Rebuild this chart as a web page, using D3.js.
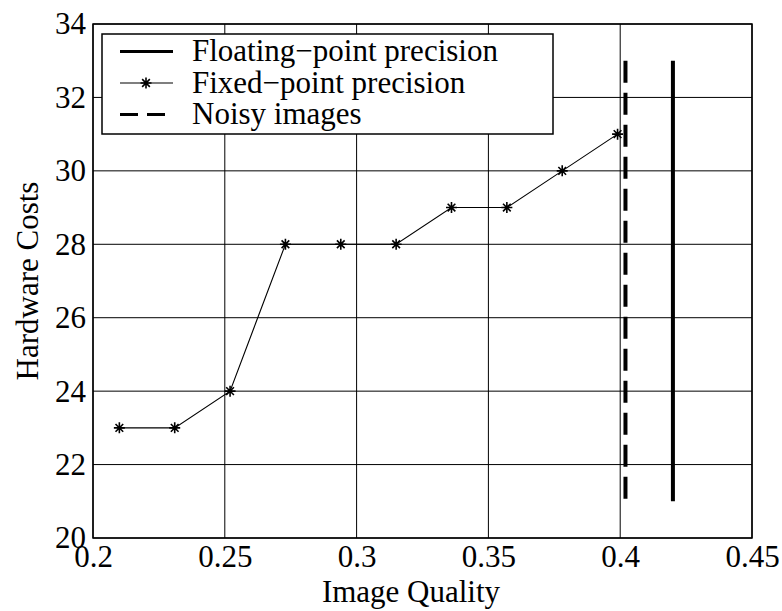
<!DOCTYPE html>
<html>
<head>
<meta charset="utf-8">
<script src="https://cdn.jsdelivr.net/npm/d3@7"></script>
<style>
  body { margin: 0; background: #fff; }
  svg { display: block; font-family: "Liberation Serif", "Times New Roman", serif; }
</style>
</head>
<body>
<svg id="chart" width="782" height="611"></svg>
<script>
// fixed-point series
const quality = [0.21, 0.231, 0.252, 0.273, 0.294, 0.315, 0.336, 0.357, 0.378, 0.399];
const costs = [23, 23, 24, 28, 28, 28, 29, 29, 30, 31];

// vertical reference lines: [x, yFrom, yTo]
const floatingLine = [0.42, 21, 33];
const noisyLine = [0.402, 21, 33];

const xTicks = [0.2, 0.25, 0.3, 0.35, 0.4, 0.45];
const yTicks = [20, 22, 24, 26, 28, 30, 32, 34];
const legendLabels = ['Floating\u2212point precision', 'Fixed\u2212point precision', 'Noisy images'];

const margin = { top: 24, right: 30, bottom: 73, left: 93 };
const width = 782 - margin.left - margin.right;
const height = 611 - margin.top - margin.bottom;
const fontSize = 31;

const svg = d3.select('#chart');
const g = svg.append('g').attr('transform', `translate(${margin.left},${margin.top})`);

const x = d3.scaleLinear().domain([0.2, 0.45]).range([0, width]);
const y = d3.scaleLinear().domain([20, 34]).range([height, 0]);

// grid
g.append('g').selectAll('line').data(xTicks).join('line')
  .attr('x1', d => x(d)).attr('x2', d => x(d))
  .attr('y1', 0).attr('y2', height)
  .attr('stroke', '#000').attr('stroke-width', 1);
g.append('g').selectAll('line').data(yTicks).join('line')
  .attr('x1', 0).attr('x2', width)
  .attr('y1', d => y(d)).attr('y2', d => y(d))
  .attr('stroke', '#000').attr('stroke-width', 1);

// axes (labels only, the box is drawn below)
const xAxis = g.append('g').attr('transform', `translate(0,${height})`)
  .call(d3.axisBottom(x).tickValues(xTicks).tickSize(0).tickFormat(d3.format('')));
const yAxis = g.append('g')
  .call(d3.axisLeft(y).tickValues(yTicks).tickSize(0).tickPadding(7).tickFormat(d3.format('d')));
[xAxis, yAxis].forEach(a => {
  a.select('.domain').remove();
  a.selectAll('text').attr('font-size', fontSize).attr('font-family', 'Liberation Serif').attr('fill', '#000');
});
xAxis.selectAll('text').attr('dy', null).attr('y', 29);

g.append('rect')
  .attr('width', width).attr('height', height)
  .attr('fill', 'none').attr('stroke', '#000').attr('stroke-width', 1.5);

// fixed-point series
const pts = quality.map((q, i) => ({ q, c: costs[i] }));
g.append('path').datum(pts)
  .attr('fill', 'none').attr('stroke', '#000').attr('stroke-width', 1.1)
  .attr('d', d3.line().x(d => x(d.q)).y(d => y(d.c)));

function star(sel, s) {
  sel.append('path')
    .attr('d', `M${-s},0H${s}M0,${-s}V${s}M${-s * 0.7},${-s * 0.7}L${s * 0.7},${s * 0.7}M${-s * 0.7},${s * 0.7}L${s * 0.7},${-s * 0.7}`)
    .attr('stroke', '#000').attr('stroke-width', 1.6);
}
g.append('g').selectAll('g').data(pts).join('g')
  .attr('transform', d => `translate(${x(d.q)},${y(d.c)})`)
  .each(function() { star(d3.select(this), 5.5); });

// vertical lines
g.append('line')
  .attr('x1', x(floatingLine[0])).attr('x2', x(floatingLine[0]))
  .attr('y1', y(floatingLine[1])).attr('y2', y(floatingLine[2]))
  .attr('stroke', '#000').attr('stroke-width', 4);
g.append('line')
  .attr('x1', x(noisyLine[0])).attr('x2', x(noisyLine[0]))
  .attr('y1', y(noisyLine[2])).attr('y2', y(noisyLine[1]))
  .attr('stroke', '#000').attr('stroke-width', 4)
  .attr('stroke-dasharray', '22,10');

// legend
const lg = svg.append('g').attr('transform', 'translate(102,34)');
lg.append('rect').attr('width', 451).attr('height', 100)
  .attr('fill', '#fff').attr('stroke', '#000').attr('stroke-width', 1.5);
const rows = lg.selectAll('g').data(legendLabels).join('g')
  .attr('transform', (d, i) => `translate(0,${17.5 + i * 31.5})`);
rows.append('line')
  .attr('x1', 18).attr('x2', 71).attr('y1', 0).attr('y2', 0)
  .attr('stroke', '#000')
  .attr('stroke-width', (d, i) => i === 1 ? 1.1 : 3)
  .attr('stroke-dasharray', (d, i) => i === 2 ? '18,9' : null);
star(rows.filter((d, i) => i === 1).append('g').attr('transform', 'translate(44,0)'), 5.5);
rows.append('text')
  .attr('x', 90).attr('y', 0).attr('dy', '0.32em')
  .attr('font-size', fontSize).text(d => d);

// axis titles
svg.append('text')
  .attr('x', 411).attr('y', 602)
  .attr('text-anchor', 'middle').attr('font-size', fontSize)
  .text('Image Quality');
svg.append('text')
  .attr('transform', 'translate(38,281) rotate(-90)')
  .attr('text-anchor', 'middle').attr('font-size', fontSize)
  .text('Hardware Costs');
</script>
</body>
</html>
